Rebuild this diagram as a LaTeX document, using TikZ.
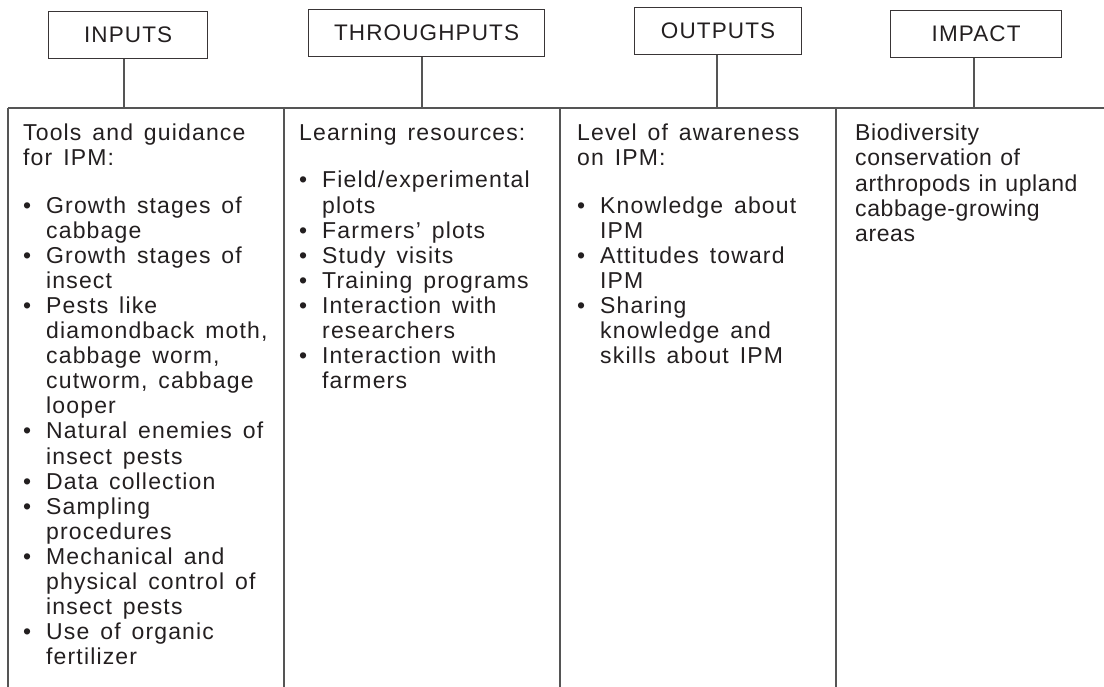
\documentclass[tikz,border=0pt]{standalone}
\usepackage{fontspec}
\setmainfont{Liberation Sans}[LetterSpace=5.0, WordSpace=1.45]
\newfontfamily\tightfont{Liberation Sans}[LetterSpace=2.5, WordSpace=1.2]
\newcommand{\bul}{\makebox[23pt][l]{•}}
\newcommand{\ind}{\hspace*{23pt}}
\definecolor{txt}{HTML}{231F20}
\definecolor{ln}{HTML}{555555}
\begin{document}
\begin{tikzpicture}[x=1pt,y=-1pt,
  headbox/.style={draw=txt!90, line width=1.2pt, inner sep=0pt, anchor=north west, text=txt,
    font=\fontsize{22.5}{26}\selectfont},
  coltext/.style={anchor=north west, inner sep=0pt, align=left, text=txt,
    font=\fontsize{23}{25.1}\selectfont},
  bar/.style={draw=ln, line width=1.3pt},
  link/.style={draw=ln, line width=1.2pt}]
\useasboundingbox (0,0) rectangle (1104,687);

% heading boxes
\node[headbox, minimum width=159pt, minimum height=47pt] (inputs) at (48,11) {INPUTS};
\node[headbox, minimum width=236pt, minimum height=47pt] (through) at (308,9) {THROUGHPUTS};
\node[headbox, minimum width=167pt, minimum height=47pt] (outputs) at (634,7) {OUTPUTS};
\node[headbox, minimum width=171pt, minimum height=47pt] (impact) at (890,10) {IMPACT};

% bar and column dividers
\coordinate (b0) at (8,108);
\coordinate (bend) at (1104,108);
\coordinate (d1) at (284,108);
\coordinate (d2) at (560,108);
\coordinate (d3) at (836,108);
\coordinate (e0) at (8,687);
\coordinate (e1) at (284,687);
\coordinate (e2) at (560,687);
\coordinate (e3) at (836,687);
\draw[bar] (b0) -- (bend);
\draw[bar] (b0) -- (e0);
\draw[bar] (d1) -- (e1);
\draw[bar] (d2) -- (e2);
\draw[bar] (d3) -- (e3);

% connectors
\coordinate (j1) at (124,108);
\coordinate (j2) at (422,108);
\coordinate (j3) at (717,108);
\coordinate (j4) at (974,108);
\draw[link] (inputs.south -| j1) -- (j1);
\draw[link] (through.south -| j2) -- (j2);
\draw[link] (outputs.south -| j3) -- (j3);
\draw[link] (impact.south -| j4) -- (j4);

% column texts
\node[coltext] (c1) at (23,124) {\rule{0pt}{16pt}Tools and guidance\\
for IPM:\\[22pt]
\bul Growth stages of\\
\ind cabbage\\
\bul Growth stages of\\
\ind insect\\
\bul Pests like\\
\ind diamondback moth,\\
\ind cabbage worm,\\
\ind cutworm, cabbage\\
\ind looper\\
\bul Natural enemies of\\
\ind insect pests\\
\bul Data collection\\
\bul Sampling\\
\ind procedures\\
\bul Mechanical and\\
\ind physical control of\\
\ind insect pests\\
\bul Use of organic\\
\ind fertilizer};

\node[coltext] (c2) at (299,124) {\rule{0pt}{16pt}Learning resources:\\[22pt]
\bul Field/experimental\\
\ind plots\\
\bul Farmers’ plots\\
\bul Study visits\\
\bul Training programs\\
\bul Interaction with\\
\ind researchers\\
\bul Interaction with\\
\ind farmers};

\node[coltext] (c3) at (577,124) {\rule{0pt}{16pt}Level of awareness\\
on IPM:\\[22pt]
\bul Knowledge about\\
\ind IPM\\
\bul Attitudes toward\\
\ind IPM\\
\bul Sharing\\
\ind knowledge and\\
\ind skills about IPM};

\node[coltext, font=\tightfont\fontsize{23}{25.1}\selectfont] (c4) at (855,124) {\rule{0pt}{16pt}Biodiversity\\
conservation of\\
arthropods in upland\\
cabbage-growing\\
areas};
\end{tikzpicture}
\end{document}
